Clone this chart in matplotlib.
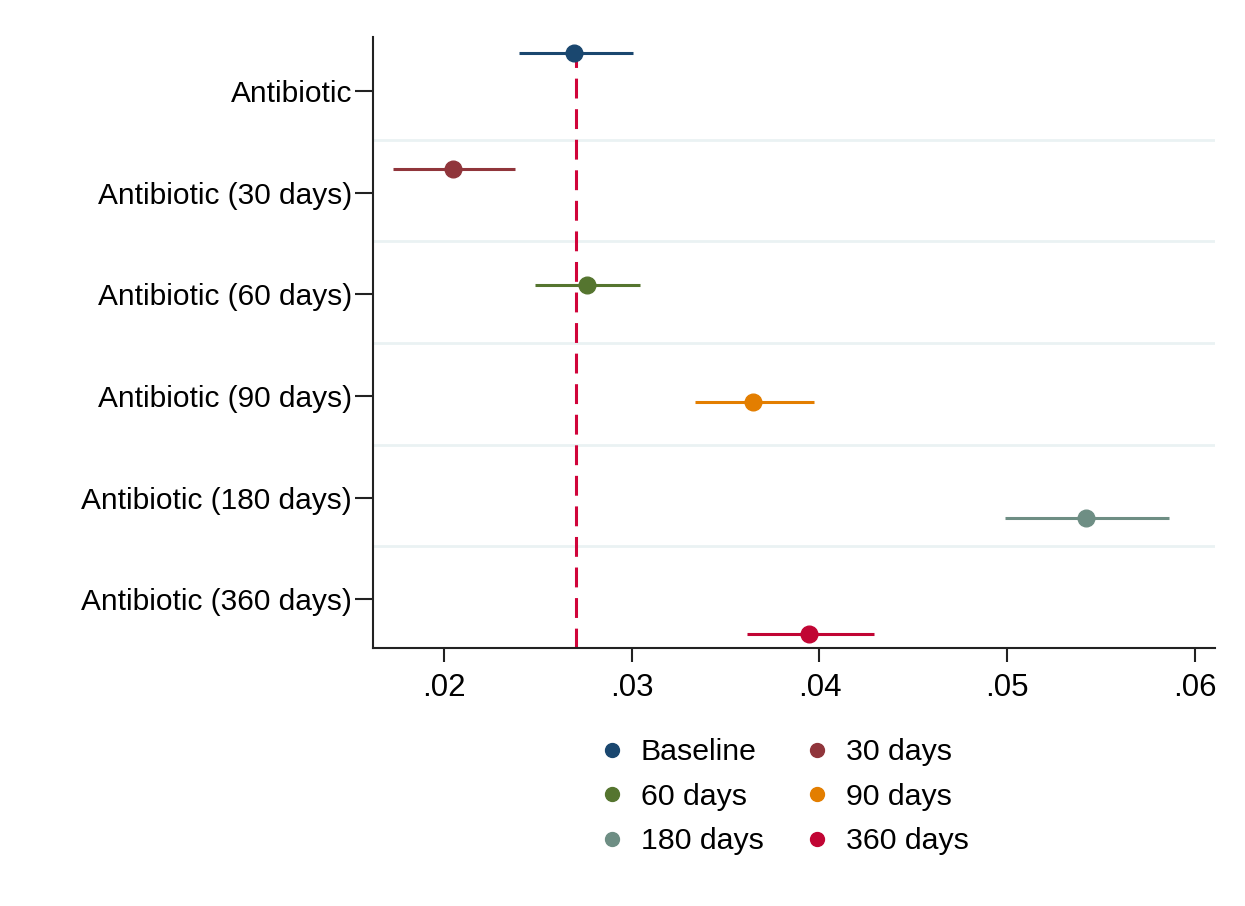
import matplotlib
matplotlib.use("Agg")
import matplotlib.pyplot as plt
from matplotlib.lines import Line2D

plt.rcParams['font.family'] = ['Liberation Sans', 'DejaVu Sans']

categories = ["Antibiotic", "Antibiotic (30 days)", "Antibiotic (60 days)",
              "Antibiotic (90 days)", "Antibiotic (180 days)", "Antibiotic (360 days)"]
series = ["Baseline", "30 days", "60 days", "90 days", "180 days", "360 days"]
estimates = [0.02692, 0.02046, 0.02764, 0.03648, 0.05420, 0.03942]
ci_low = [0.02400, 0.01730, 0.02485, 0.03337, 0.04990, 0.03612]
ci_high = [0.03007, 0.02378, 0.03046, 0.03971, 0.05864, 0.04288]
ref_value = 0.02703
xticks = [0.02, 0.03, 0.04, 0.05, 0.06]
xticklabels = [".02", ".03", ".04", ".05", ".06"]
colors = ["#1a476f", "#90353b", "#55752f", "#e37e00", "#6e8e84", "#c10534"]

fig = plt.figure(figsize=(12.45, 9.06), dpi=100)
ax = fig.add_axes([373/1245, 1-648/906, (1215-373)/1245, (648-37)/906])

n = len(series)
step = 1.0 / 7
for i in range(n):
    y = i + (i - (n - 1) / 2) * step - 0.015
    ax.plot([ci_low[i], ci_high[i]], [y, y], color=colors[i], lw=2.2,
            solid_capstyle='butt', zorder=3)
    ax.plot(estimates[i], y, 'o', color=colors[i], ms=12, zorder=4)

for k in range(n - 1):
    ax.axhline(k + 0.48, color="#eaf2f3", lw=2, zorder=1)

ax.axvline(ref_value, color="#d0043a", lw=2.2, ls=(0, (6.5, 3.5)), zorder=2)

ax.set_ylim(5.48, -0.53)
ax.set_xlim(0.01622, 0.06107)
ax.set_yticks(range(n))
ax.set_yticklabels(categories, fontsize=21.5)
ax.set_xticks(xticks)
ax.set_xticklabels(xticklabels, fontsize=22.5)
ax.tick_params(axis='y', length=13, width=1.5, pad=2, colors='#222222', labelcolor='black')
ax.tick_params(axis='x', length=10, width=1.5, pad=8, colors='#222222', labelcolor='black')
for s in ['top', 'right']:
    ax.spines[s].set_visible(False)
for s in ['left', 'bottom']:
    ax.spines[s].set_linewidth(1.5)
    ax.spines[s].set_color('#222222')

handles = [Line2D([], [], ls='none', marker='o', ms=10, color=c) for c in colors]
order = [0, 2, 4, 1, 3, 5]
leg = fig.legend([handles[i] for i in order], [series[i] for i in order],
                 ncol=2, loc='upper left', bbox_to_anchor=(588/1245, 1-726/906),
                 frameon=False, fontsize=21.8, handlelength=0.8, handletextpad=0.55,
                 columnspacing=1.36, labelspacing=0.55, borderaxespad=0)

fig.savefig("out.png", dpi=100, facecolor='white')
